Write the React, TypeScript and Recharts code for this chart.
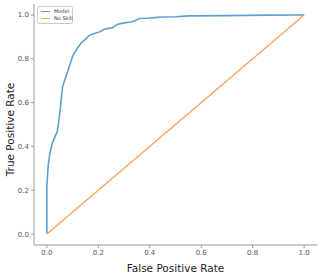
import React from "react";
import { LineChart, Line, XAxis, YAxis, Legend } from "recharts";

// ROC curve points
const modelFpr = [0, 0, 0.005, 0.012, 0.02, 0.03, 0.041, 0.05, 0.061, 0.08, 0.102, 0.12, 0.132, 0.15, 0.165, 0.185, 0.204, 0.223, 0.245, 0.256, 0.275, 0.301, 0.327, 0.345, 0.36, 0.4, 0.418, 0.45, 0.5, 0.55, 0.7, 0.85, 1.0];
const modelTpr = [0, 0.22, 0.31, 0.37, 0.41, 0.44, 0.47, 0.55, 0.672, 0.74, 0.817, 0.85, 0.87, 0.89, 0.907, 0.915, 0.922, 0.935, 0.94, 0.943, 0.958, 0.964, 0.968, 0.975, 0.984, 0.986, 0.988, 0.991, 0.992, 0.996, 0.997, 0.999, 1.0];
const skillFpr = [0, 1];
const skillTpr = [0, 1];
const ticks = [0, 0.2, 0.4, 0.6, 0.8, 1.0];

const modelData = modelFpr.map((x, i) => ({ x, y: modelTpr[i] }));
const skillData = skillFpr.map((x, i) => ({ x, y: skillTpr[i] }));

const BLUE = "#5f9fd3";
const ORANGE = "#fca35c";
const FONT = "DejaVu Sans, sans-serif";
const tickStyle = { fontSize: 7, fill: "#555", fontFamily: FONT };

const LegendBox = (props: any) => {
  const items = props.payload || [];
  return (
    <div
      style={{
        border: "1px solid #ccc",
        borderRadius: 2,
        padding: "1px 3px",
        fontFamily: FONT,
        fontSize: 5,
        color: "#333",
        background: "#fff",
        width: 28,
        whiteSpace: "nowrap",
      }}
    >
      {items.map((it: any) => (
        <div key={it.value} style={{ display: "flex", alignItems: "center", height: 7, lineHeight: "7px" }}>
          <span style={{ display: "inline-block", width: 9, height: 1.2, background: it.color, marginRight: 4, flexShrink: 0 }} />
          <span>{it.value}</span>
        </div>
      ))}
    </div>
  );
};

export default function App() {
  return (
    <div style={{ position: "fixed", left: 0, top: 0, background: "#fff" }}>
      <LineChart width={323} height={275} margin={{ top: 4, right: 6, left: 0, bottom: 0 }}>
        <XAxis
          xAxisId="b"
          dataKey="x"
          type="number"
          domain={[-0.05, 1.05]}
          ticks={ticks}
          tickFormatter={(v: number) => v.toFixed(1)}
          tick={tickStyle}
          tickSize={3}
          height={30}
          stroke="#999"
          label={{ value: "False Positive Rate", position: "insideBottom", offset: 3, fontSize: 10.5, fill: "#222", fontFamily: FONT }}
        />
        <XAxis xAxisId="t" dataKey="x" type="number" orientation="top" domain={[-0.05, 1.05]} tick={false} tickLine={false} height={0} stroke="#999" />
        <YAxis
          yAxisId="l"
          type="number"
          domain={[-0.05, 1.05]}
          ticks={ticks}
          tickFormatter={(v: number) => v.toFixed(1)}
          tick={tickStyle}
          tickSize={3}
          width={34}
          stroke="#999"
          label={{
            content: (p: any) => {
              const vb = p.viewBox || { y: 4, height: 241 };
              const cy = vb.y + vb.height / 2 + 5;
              return (
                <text x={10} y={cy} transform={`rotate(-90, 10, ${cy})`} textAnchor="middle" dominantBaseline="central" fontSize={10.5} fill="#222" fontFamily={FONT}>
                  True Positive Rate
                </text>
              );
            },
          }}
        />
        <YAxis yAxisId="r" type="number" orientation="right" domain={[-0.05, 1.05]} tick={false} tickLine={false} width={0} stroke="#999" />
        <Legend content={LegendBox} layout="horizontal" verticalAlign="middle" align="center" wrapperStyle={{ left: 37, top: 6, width: "auto" }} />
        <Line xAxisId="b" yAxisId="l" data={modelData} dataKey="y" name="Model" type="linear" stroke={BLUE} strokeWidth={1.6} dot={false} isAnimationActive={false} />
        <Line xAxisId="b" yAxisId="l" data={skillData} dataKey="y" name="No Skill" type="linear" stroke={ORANGE} strokeWidth={1.4} dot={false} isAnimationActive={false} />
      </LineChart>
    </div>
  );
}
